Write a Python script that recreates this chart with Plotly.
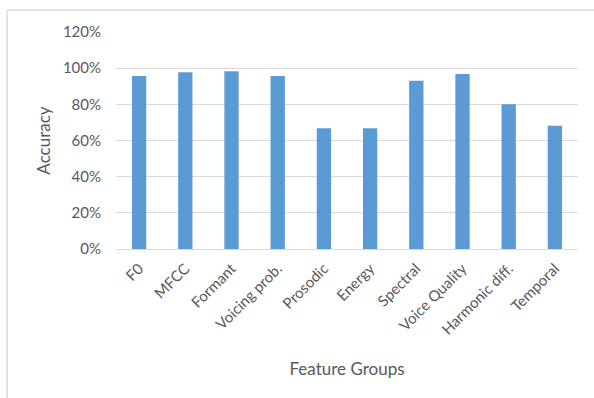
import plotly.graph_objects as go

feature_groups = ["F0", "MFCC", "Formant", "Voicing prob.", "Prosodic", "Energy",
                  "Spectral", "Voice Quality", "Harmonic diff.", "Temporal"]
accuracy = [0.957, 0.977, 0.983, 0.957, 0.668, 0.668, 0.931, 0.968, 0.800, 0.682]
y_ticks = [0, 0.2, 0.4, 0.6, 0.8, 1.0, 1.2]

font_family = "Lato, 'Open Sans', sans-serif"
text_color = "#595959"
grid_color = "#d9d9d9"

fig = go.Figure(
    go.Bar(x=feature_groups, y=accuracy, marker=dict(color="#5b9bd5", line=dict(width=0)))
)

W, H = 594, 398
ml, mr, mt, mb = 116, 16, 32, 149
pw, ph = W - ml - mr, H - mt - mb

# light frame around the chart (left and top edges visible)
fx = (7 - ml) / pw
fy = 1 + (mt - 10) / ph
fig.add_shape(type="line", xref="paper", yref="paper", x0=fx, x1=fx, y0=-2, y1=fy,
              line=dict(color=grid_color, width=1.5))
fig.add_shape(type="line", xref="paper", yref="paper", x0=fx, x1=2, y0=fy, y1=fy,
              line=dict(color=grid_color, width=1.5))

fig.update_layout(
    width=W, height=H,
    margin=dict(l=ml, r=mr, t=mt, b=mb),
    paper_bgcolor="white", plot_bgcolor="white",
    bargap=0.69,
    showlegend=False,
    font=dict(family=font_family, color=text_color, size=15),
    xaxis=dict(
        tickangle=-45, tickfont=dict(size=15, color=text_color),
        showgrid=False, showline=True, linecolor=grid_color, linewidth=1,
        ticklabelstandoff=4,
        title=dict(text="Feature Groups", font=dict(size=17, color=text_color), standoff=26),
        ticks="",
    ),
    yaxis=dict(
        range=[0, 1.2], tickvals=y_ticks, tickformat=".0%",
        tickfont=dict(size=15, color=text_color),
        showgrid=True, gridcolor=grid_color, gridwidth=1,
        zeroline=False, showline=False, ticks="", ticklabelstandoff=14,
        title=dict(text="Accuracy", font=dict(size=17, color=text_color), standoff=7),
    ),
)

fig.write_html("out.html")
